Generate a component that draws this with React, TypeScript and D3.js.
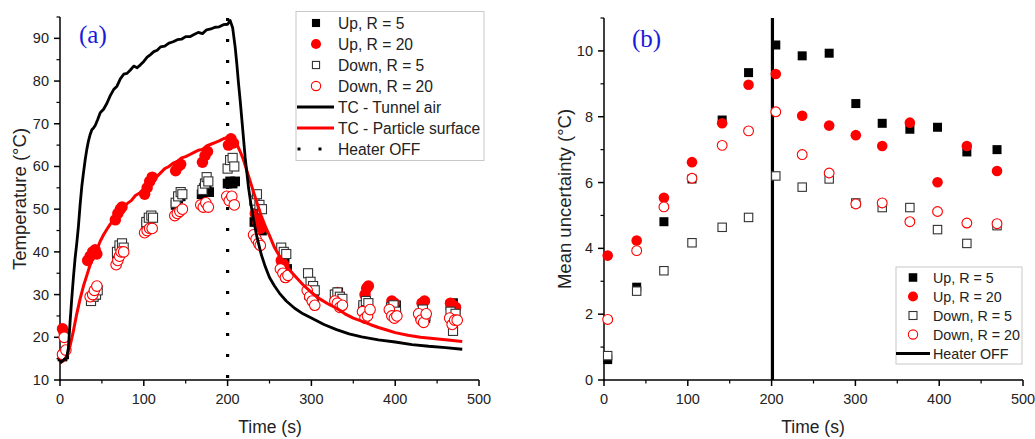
import React from "react";
import * as d3 from "d3";

// ---------- Panel (a) data ----------
const tunnelAirT = [0,2,5,8,10,12,14,16,18,20,22,24,26,28,30,32,34,36,38,40,42,45,48,52,56,60,64,68,72,76,80,84,88,92,96,100,104,108,112,116,120,125,130,135,140,145,150,155,160,165,170,175,180,185,190,195,200,203,206,209,211,213,215,217,219,221,223,225,228,231,235,240,245,250,256,262,270,280,290,300,315,330,345,360,380,400,420,440,460,480];
const tunnelAirV = [14,14.3,14.8,15.2,17.5,23.5,29,34,38.5,42,46,51,55.3,58.5,61.5,64,66,67.5,68.6,69,69.6,71,72.6,73.4,74.8,76.6,78,78.8,80.5,81.6,81.8,82.6,83.5,83.1,83.8,84.6,85.6,86.2,86.9,87.2,88,88.2,88.9,89.2,89.7,89.8,90.4,90.4,90.9,91.4,91.1,92,92.2,92.6,92.7,93.2,93.3,94.2,92.5,88,84,79.5,75.5,71,66.5,62,58.5,55,51,47.5,43.5,39.5,36.5,34,32,30.3,28.5,26.8,25.5,24.5,23,21.8,20.8,20.1,19.4,18.9,18.3,17.9,17.6,17.2];

const particleT = [0,4,8,12,16,20,24,28,32,36,40,44,48,52,56,60,64,68,72,76,80,85,90,95,100,105,110,115,120,125,130,135,140,145,150,155,160,165,170,175,180,185,190,195,200,203,206,209,212,215,219,223,227,231,235,240,245,250,256,262,268,275,282,290,300,310,320,330,340,350,360,370,380,390,400,415,430,445,460,480];
const particleV = [14,14.5,15.5,18,21.5,25.5,29,32,34.5,37,39,40.5,42.5,44,45.3,46.5,47.5,48.8,50,50.5,51.3,52,53.2,53.8,54.8,55.5,56.8,57.5,58.5,59.5,60,60.8,61.2,62,62.3,62.8,63.3,63.8,64,64.8,65.2,65.6,66,66.5,66.8,67,66.8,66,64.8,63.5,61.5,59,56.5,54,51.5,48.5,46,43.8,41,39,37.5,35.5,34,32.3,30.5,29,27.8,26.8,25.5,24.5,23.8,23,22.3,21.7,21.1,20.5,20,19.7,19.4,19];

const aUpR5: [number, number][] = [[3,15.5],[5,16],[37,29],[40,29.5],[43,30],[68,39.5],[71,40.5],[74,41],[103,46.5],[106,47.5],[109,48],[138,51],[141,52.5],[144,53],[169,53.5],[172,55],[175,56],[178,54],[200,56],[203,56.5],[206,56],[209,56.5],[232,47],[235,48.5],[238,46],[241,45],[265,37],[268,38.5],[271,36],[297,30],[300,31],[303,29.5],[329,30],[332,30.5],[335,29],[362,27],[365,28],[368,26.5],[395,27],[398,26],[401,27.5],[430,25],[433,26],[436,24.5],[466,27.5],[469,28],[472,26.5]];
const aUpR20: [number, number][] = [[3,22],[5,21],[33,38],[36,39],[39,40],[42,40.5],[44,39.5],[66,47.5],[69,49],[72,50],[74,50.5],[101,53.5],[104,55],[107,56.5],[110,57.5],[138,59],[141,60],[144,60.5],[170,61],[173,62.5],[176,63.5],[201,65],[204,66.5],[207,65.5],[233,49],[236,47],[239,45.5],[264,38],[267,37],[297,31],[300,30],[331,30.5],[333,29.5],[364,30],[366,31.5],[368,32],[396,28.5],[399,28],[432,28],[435,28.5],[466,28],[469,27.5],[472,27]];
const aDownR5: [number, number][] = [[37,28.5],[40,29.5],[43,30],[45,31],[68,40],[71,41.5],[74,42],[76,41],[103,47],[106,48],[109,48.5],[111,48],[138,51.5],[141,53],[144,54],[146,53.5],[170,54.5],[173,56],[175,57.5],[177,56.5],[200,59.5],[203,61.5],[206,62],[208,60],[232,52],[235,53.5],[238,51],[241,50],[264,41],[267,40],[270,39.5],[296,35],[299,33],[302,32],[304,31],[328,30],[331,30.5],[334,29.5],[337,29],[362,27.5],[365,28.5],[368,28],[395,27],[398,27.5],[401,26],[430,25.5],[433,26.5],[436,25],[466,26],[469,21.5],[472,25.5]];
const aDownR20: [number, number][] = [[3,16],[5,20],[7,17],[36,29.5],[39,30],[41,31],[44,32],[67,37],[69,38],[71,39],[73,40],[76,40],[101,44.5],[104,45],[107,45.5],[110,45.5],[137,48.5],[140,49],[143,49.5],[146,50],[168,51],[171,50.5],[174,51.5],[177,50.5],[199,53],[202,52],[205,53],[208,51],[231,44],[234,43],[237,42],[239,41.5],[263,36],[266,35],[269,34],[272,34.5],[295,31],[298,29.5],[301,28.5],[304,27.5],[328,28.5],[331,28],[334,27],[337,27.5],[361,26],[364,24.5],[367,25],[370,26.5],[393,26.5],[396,25],[399,24.5],[402,25],[428,25.5],[431,24],[434,23.5],[437,25.5],[465,24.5],[468,23],[471,24],[474,24]];

// ---------- Panel (b) data ----------
const timesB = [4.4,39,71.5,105,141,172.5,205,236.5,268.7,300.5,332,365,398,433,469];
const bUpR5 = [0.62,2.82,4.81,6.11,7.9,9.34,10.18,9.85,9.93,8.4,7.8,7.62,7.68,6.93,7.0];
const bUpR20 = [3.78,4.24,5.54,6.62,7.8,8.97,9.3,8.03,7.73,7.44,7.11,7.82,6.01,7.11,6.35];
const bDownR5 = [0.74,2.7,3.32,4.17,4.64,4.94,6.2,5.86,6.11,5.38,5.24,5.24,4.57,4.15,4.69];
const bDownR20 = [1.84,3.93,5.26,6.13,7.13,7.57,8.15,6.85,6.29,5.35,5.38,4.81,5.12,4.77,4.75];

// ---------- Ticks & labels ----------
const xMajor = [0,100,200,300,400,500];
const xMinor = [50,150,250,350,450];
const yMajorA = [10,20,30,40,50,60,70,80,90];
const yMinorA = [15,25,35,45,55,65,75,85,95];
const yMajorB = [0,2,4,6,8,10];
const yMinorB = [1,3,5,7,9,11];
const heaterOffTime = 200;
const heaterOffTimeB = 201;
const legendA = ["Up, R = 5","Up, R = 20","Down, R = 5","Down, R = 20","TC - Tunnel air","TC - Particle surface","Heater OFF"];
const legendB = ["Up, R = 5","Up, R = 20","Down, R = 5","Down, R = 20","Heater OFF"];

const FONT = "'Liberation Sans', Arial, sans-serif";
const TXT = "#222";
const RED = "#ff0000";

type Sym = "fsq" | "fci" | "osq" | "oci";

function Marker({ type, x, y, s = 1 }: { type: Sym; x: number; y: number; s?: number }) {
  if (type === "fsq") return <rect x={x - 4.5 * s} y={y - 4.5 * s} width={9 * s} height={9 * s} fill="#000" />;
  if (type === "osq") return <rect x={x - 4.2 * s} y={y - 4.2 * s} width={8.4 * s} height={8.4 * s} fill="#fff" stroke="#333" strokeWidth={1.1} />;
  if (type === "fci") return <circle cx={x} cy={y} r={5.3 * s} fill={RED} />;
  return <circle cx={x} cy={y} r={4.9 * s} fill="#fff" stroke={RED} strokeWidth={1.1} />;
}

function Axes({ x, y, yMajor, yMinor, yFmt }: { x: d3.ScaleLinear<number, number>; y: d3.ScaleLinear<number, number>; yMajor: number[]; yMinor: number[]; yFmt: (v: number) => string }) {
  const [x0, x1] = x.range();
  const [yb, yt] = y.range();
  return (
    <g>
      <line x1={x0} x2={x0} y1={yb + 0.5} y2={yt} stroke="#000" strokeWidth={1.5} />
      <line x1={x0 - 0.7} x2={x1} y1={yb} y2={yb} stroke="#000" strokeWidth={1.5} />
      {xMajor.map((v) => (
        <g key={"xM" + v}>
          <line x1={x(v)} x2={x(v)} y1={yb} y2={yb + 6} stroke="#000" strokeWidth={1.5} />
          <text x={x(v)} y={404} textAnchor="middle" fontFamily={FONT} fontSize={14.5} fill={TXT}>{v}</text>
        </g>
      ))}
      {xMinor.map((v) => (
        <line key={"xm" + v} x1={x(v)} x2={x(v)} y1={yb} y2={yb + 3.5} stroke="#000" strokeWidth={1.2} />
      ))}
      {yMajor.map((v) => (
        <g key={"yM" + v}>
          <line x1={x0} x2={x0 - 6} y1={y(v)} y2={y(v)} stroke="#000" strokeWidth={1.5} />
          <text x={x0 - 11} y={y(v) + 5} textAnchor="end" fontFamily={FONT} fontSize={14.5} fill={TXT}>{yFmt(v)}</text>
        </g>
      ))}
      {yMinor.map((v) => (
        <line key={"ym" + v} x1={x0} x2={x0 - 3.5} y1={y(v)} y2={y(v)} stroke="#000" strokeWidth={1.2} />
      ))}
    </g>
  );
}

function PanelA() {
  const x = d3.scaleLinear().domain([0, 500]).range([60, 479]);
  const y = d3.scaleLinear().domain([10, 95]).range([380, 17]);
  const line = d3.line<number>().x((_, i) => 0).y(() => 0);
  const mk = (ts: number[], vs: number[]) =>
    d3.line<number>().x((d) => x(d)).y((_, i) => y(vs[i]))(ts) || "";
  void line;
  const series: [Sym, [number, number][]][] = [
    ["fsq", aUpR5],
    ["fci", aUpR20],
    ["osq", aDownR5],
    ["oci", aDownR20],
  ];
  const rowY = (i: number) => 23 + i * 21;
  return (
    <g>
      <Axes x={x} y={y} yMajor={yMajorA} yMinor={yMinorA} yFmt={(v) => String(v)} />
      <line x1={x(heaterOffTime)} x2={x(heaterOffTime)} y1={18} y2={380} stroke="#000" strokeWidth={3.2} strokeDasharray="3 18" />
      {series.map(([t, pts]) =>
        pts.map((p, i) => <Marker key={t + i} type={t} x={x(p[0])} y={y(p[1])} s={1.08} />)
      )}
      <path d={mk(particleT, particleV)} fill="none" stroke={RED} strokeWidth={3} strokeLinejoin="round" />
      <path d={mk(tunnelAirT, tunnelAirV)} fill="none" stroke="#000" strokeWidth={2.8} strokeLinejoin="round" />
      <text x={x(0) + 19} y={43} fontFamily="'Liberation Serif', 'Times New Roman', serif" fontSize={25} fill="#1a1adc">(a)</text>
      <text x={270} y={433} textAnchor="middle" fontFamily={FONT} fontSize={17.5} fill={TXT}>Time (s)</text>
      <text transform={`translate(26,199) rotate(-90)`} textAnchor="middle" fontFamily={FONT} fontSize={18.5} fill={TXT}>Temperature (°C)</text>
      {/* legend */}
      <rect x={296} y={11.5} width={188} height={149} fill="#fff" stroke="#c8c8c8" strokeWidth={1} />
      {(["fsq", "fci", "osq", "oci"] as Sym[]).map((t, i) => (
        <Marker key={"lg" + t} type={t} x={316} y={rowY(i)} s={t === "osq" ? 0.85 : t === "fsq" ? 0.9 : 0.95} />
      ))}
      <line x1={297} x2={334} y1={rowY(4)} y2={rowY(4)} stroke="#000" strokeWidth={3} />
      <line x1={297} x2={334} y1={rowY(5)} y2={rowY(5)} stroke={RED} strokeWidth={3} />
      <line x1={297} x2={334} y1={rowY(6)} y2={rowY(6)} stroke="#000" strokeWidth={3.2} strokeDasharray="3 18" strokeDashoffset={-0.5} />
      {legendA.map((s, i) => (
        <text key={s} x={338} y={rowY(i) + 5.6} fontFamily={FONT} fontSize={15.6} fill={TXT}>{s}</text>
      ))}
    </g>
  );
}

function PanelB() {
  const x = d3.scaleLinear().domain([0, 500]).range([604, 1023]);
  const y = d3.scaleLinear().domain([0, 11]).range([380, 18]);
  const series: [Sym, number[]][] = [
    ["fsq", bUpR5],
    ["fci", bUpR20],
    ["osq", bDownR5],
    ["oci", bDownR20],
  ];
  const rowY = (i: number) => 277.5 + i * 19;
  return (
    <g>
      <Axes x={x} y={y} yMajor={yMajorB} yMinor={yMinorB} yFmt={(v) => String(v)} />
      <line x1={x(heaterOffTimeB)} x2={x(heaterOffTimeB)} y1={18} y2={380} stroke="#000" strokeWidth={3.2} />
      {series.map(([t, vs]) =>
        vs.map((v, i) => <Marker key={t + i} type={t} x={x(timesB[i])} y={y(v)} s={1} />)
      )}
      <text x={632} y={47} fontFamily="'Liberation Serif', 'Times New Roman', serif" fontSize={25} fill="#1a1adc">(b)</text>
      <text x={813} y={433} textAnchor="middle" fontFamily={FONT} fontSize={17.5} fill={TXT}>Time (s)</text>
      <text transform={`translate(571,199) rotate(-90)`} textAnchor="middle" fontFamily={FONT} fontSize={18.5} fill={TXT}>Mean uncertainty (°C)</text>
      <rect x={896} y={267} width={126} height={97} fill="#fff" stroke="#c8c8c8" strokeWidth={1} />
      {(["fsq", "fci", "osq", "oci"] as Sym[]).map((t, i) => (
        <Marker key={"lgb" + t} type={t} x={913} y={rowY(i)} s={t === "osq" ? 0.95 : 0.95} />
      ))}
      <line x1={896} x2={930} y1={rowY(4)} y2={rowY(4)} stroke="#000" strokeWidth={3} />
      {legendB.map((s, i) => (
        <text key={s} x={933} y={rowY(i) + 5.2} fontFamily={FONT} fontSize={14.3} fill={TXT}>{s}</text>
      ))}
    </g>
  );
}

export default function App() {
  return (
    <svg width={1035} height={439} style={{ position: "absolute", left: 0, top: 0, background: "#fff" }}>
      <rect width={1035} height={439} fill="#fff" />
      <PanelA />
      <PanelB />
    </svg>
  );
}
